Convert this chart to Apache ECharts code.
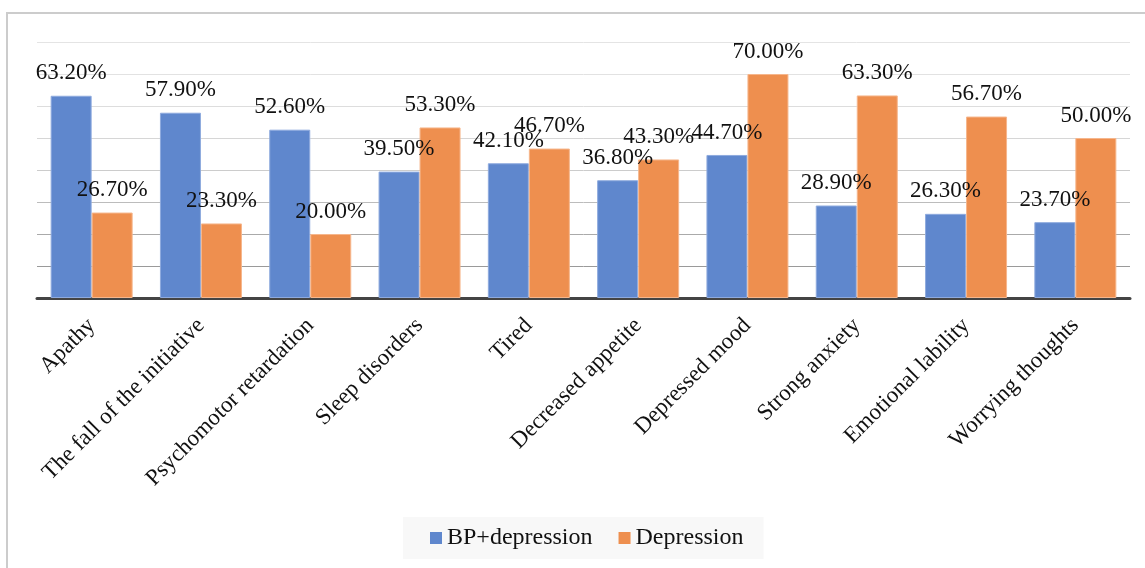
<!DOCTYPE html>
<html>
<head>
<meta charset="utf-8">
<script src="https://cdn.jsdelivr.net/npm/echarts@6/dist/echarts.min.js"></script>
<style>
  html, body { margin: 0; padding: 0; background: #fff; }
  #chart { width: 1145px; height: 568px; }
</style>
</head>
<body>
<div id="chart"></div>
<script>
// Symptom categories and share of patients (%) in each group
const categories = [
  'Apathy', 'The fall of the initiative', 'Psychomotor retardation', 'Sleep disorders',
  'Tired', 'Decreased appetite', 'Depressed mood', 'Strong anxiety',
  'Emotional lability', 'Worrying thoughts'
];
const bpDepression = [63.2, 57.9, 52.6, 39.5, 42.1, 36.8, 44.7, 28.9, 26.3, 23.7];
const depression   = [26.7, 23.3, 20.0, 53.3, 46.7, 43.3, 70.0, 63.3, 56.7, 50.0];
const seriesNames  = ['BP+depression', 'Depression'];

const serif = '"Liberation Serif", "DejaVu Serif", serif';

const chart = echarts.init(document.getElementById('chart'), null, { renderer: 'canvas' });

const labelCfg = {
  show: true,
  position: 'top',
  distance: 11,
  fontFamily: serif,
  fontSize: 23,
  color: '#111',
  formatter: p => p.value.toFixed(2) + '%'
};

chart.setOption({
  animation: false,
  backgroundColor: '#fff',
  graphic: [{
    type: 'rect',
    silent: true,
    z: -1,
    shape: { x: 7, y: 13, width: 1200, height: 620 },
    style: { fill: 'none', stroke: '#cccccc', lineWidth: 2 }
  }],
  grid: { left: 37, right: 15, top: 42, bottom: 270 },
  legend: {
    data: seriesNames,
    bottom: 9,
    left: 403,
    itemWidth: 12,
    itemHeight: 12,
    itemGap: 26,
    padding: [9, 20, 9, 27],
    backgroundColor: '#f8f8f8',
    textStyle: { fontFamily: serif, fontSize: 24, color: '#111' },
    itemStyle: { borderWidth: 0 },
    icon: 'rect'
  },
  xAxis: {
    type: 'category',
    data: categories,
    axisLine: { show: true, lineStyle: { color: '#444', width: 3 } },
    axisTick: { show: false },
    axisLabel: {
      rotate: 45,
      interval: 0,
      margin: 24,
      fontFamily: serif,
      fontSize: 23,
      color: '#111'
    }
  },
  yAxis: {
    type: 'value',
    min: 0,
    max: 80,
    interval: 10,
    axisLine: { show: false },
    axisTick: { show: false },
    axisLabel: { show: false },
    splitLine: {
      lineStyle: {
        color: ['#999', '#9a9a9a', '#aaaaaa', '#bcbcbc', '#cccccc', '#d6d6d6', '#dddddd', '#e2e2e2', '#e4e4e4'],
        width: 1
      }
    }
  },
  series: [
    {
      name: seriesNames[0],
      type: 'bar',
      data: bpDepression,
      barWidth: 41,
      barGap: '0%',
      itemStyle: { color: '#5f87cd', borderColor: '#8eaade', borderWidth: 1 },
      label: labelCfg
    },
    {
      name: seriesNames[1],
      type: 'bar',
      data: depression,
      barWidth: 41,
      barGap: '0%',
      itemStyle: { color: '#ee8f4f', borderColor: '#f6b68c', borderWidth: 1 },
      label: labelCfg
    }
  ]
});
</script>
</body>
</html>
